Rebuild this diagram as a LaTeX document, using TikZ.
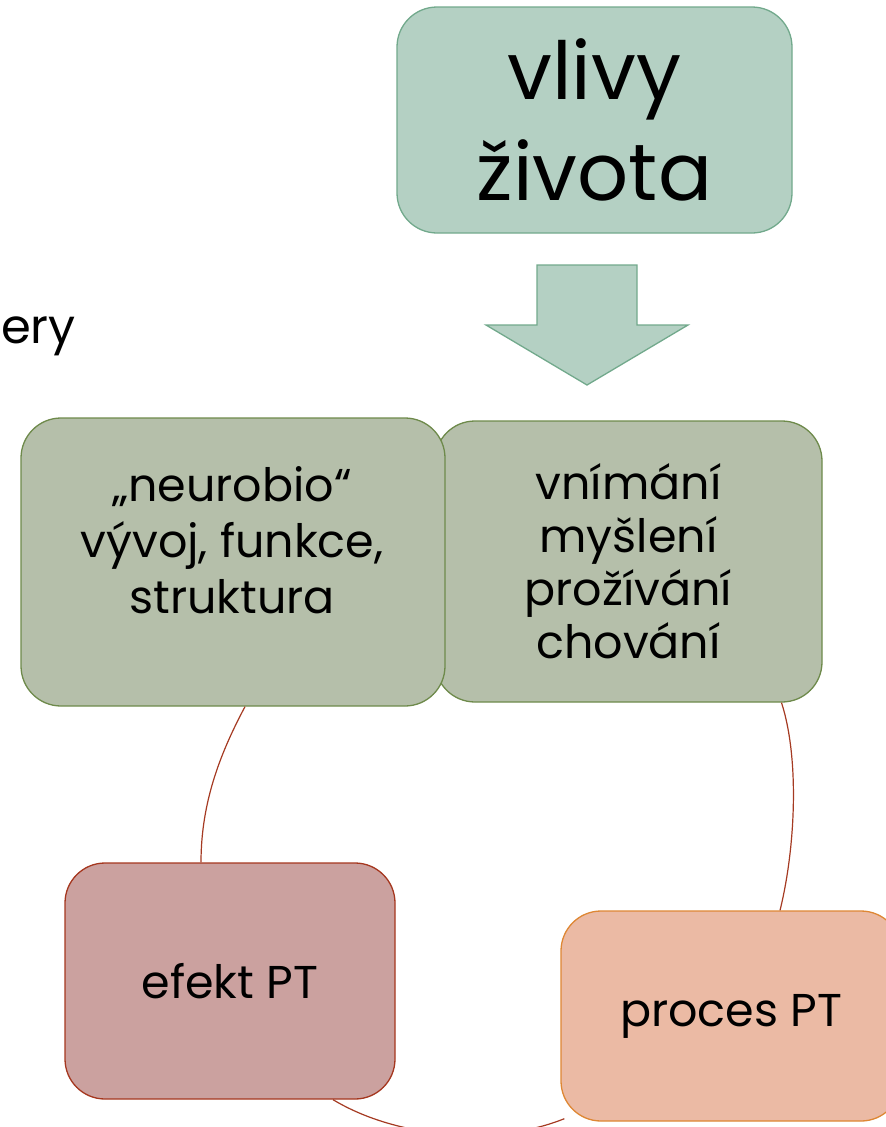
\documentclass[tikz,border=0pt]{standalone}
\usepackage{fontspec}
\setmainfont{Poppins}
\usetikzlibrary{calc}
\definecolor{topfill}{HTML}{B4D0C3}
\definecolor{topline}{HTML}{72A98C}
\definecolor{midfill}{HTML}{B5BFAA}
\definecolor{midline}{HTML}{6E8A4B}
\definecolor{efektfill}{HTML}{CBA19F}
\definecolor{efektline}{HTML}{A5371F}
\definecolor{procesfill}{HTML}{EBBAA4}
\definecolor{procesline}{HTML}{DE8734}
\definecolor{linkred}{HTML}{A53A22}
\tikzset{
  box/.style={draw, rounded corners=40pt, line width=1.3pt, inner sep=0pt, align=center},
  boxtext/.style={align=center, inner sep=0pt, font=\fontsize{46}{56}\selectfont},
  link/.style={draw=linkred, line width=1.2pt},
}
\begin{document}
\begin{tikzpicture}[x=1pt,y=-1pt]
\useasboundingbox (0,0) rectangle (886,1127);
\clip (0,0) rectangle (886,1127);
% text on the left
\node[anchor=base west, inner sep=0pt, font=\fontsize{48}{56}\selectfont] (ery) at (1,343) {ery};
% top box and block arrow
\node[box, fill=topfill, draw=topline, minimum width=395pt, minimum height=226pt,
  font=\fontsize{80}{101}\selectfont] (vlivy) at (594.5,120) {vlivy\\života};
\filldraw[fill=topfill, draw=topline, line width=1.3pt]
  (537,265) -- (637,265) -- (637,325) -- (688,325) -- (587,385) -- (486,325) -- (537,325) -- cycle;
% middle boxes
\node[box, fill=midfill, draw=midline, minimum width=387pt, minimum height=281pt,
  font=\fontsize{46}{53}\selectfont] (psyche) at (628.5,561.5) {vnímání\\myšlení\\prožívání\\chování};
\node[box, fill=midfill, draw=midline, minimum width=424pt, minimum height=288pt] (neuro) at (233,562) {};
\node[boxtext] (neurotext) at (232,540) {„neurobio“\\vývoj, funkce,\\struktura};
% bottom boxes
\node[box, fill=efektfill, draw=efektline, minimum width=330pt, minimum height=236pt,
  font=\fontsize{46}{56}\selectfont] (efekt) at (230,981) {efekt PT};
\node[box, fill=procesfill, draw=procesline, minimum width=340pt, minimum height=210pt,
  font=\fontsize{46}{56}\selectfont] (proces) at (731,1016) {proces PT};
% cycle
\draw[link] ($(neuro.south)+(12,0)$) .. controls (222,750) and (201,800) .. ($(efekt.north)+(-29,0)$);
\draw[link] ($(psyche.south)+(153,0)$) .. controls (800,760) and (795,850) .. ($(proces.north)+(49,0)$);
\draw[link] ($(efekt.south)+(103,0)$) .. controls (400,1140) and (500,1145) .. ($(proces.south west)+(4,-3)$);
\end{tikzpicture}
\end{document}
